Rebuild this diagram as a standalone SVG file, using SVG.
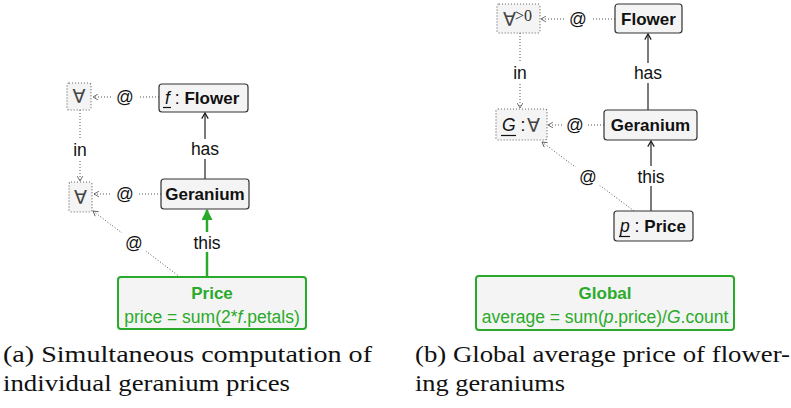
<svg xmlns="http://www.w3.org/2000/svg" width="791" height="408" viewBox="0 0 791 408">
<style>
.box{fill:#f4f4f4;stroke:#333;stroke-width:1.2}
.dbox{fill:#f4f4f4;stroke:#666;stroke-width:1.2;stroke-dasharray:1 2}
.gbox{fill:#f4f4f4;stroke:#2aaa2a;stroke-width:2}
.dot{fill:none;stroke:#555;stroke-width:1;stroke-dasharray:1 2}
.sol{fill:none;stroke:#333;stroke-width:1.3}
.grn{fill:none;stroke:#2aaa2a;stroke-width:2.5}
.t{font-family:"Liberation Sans",Arial,sans-serif;font-size:17.5px;fill:#111}
.b{font-weight:bold;font-size:17px}
.g{fill:#2aaa2a}
.lbl{font-family:"Liberation Sans",Arial,sans-serif;font-size:17.5px;fill:#111;text-anchor:middle}
.m{font-family:"DejaVu Sans",sans-serif;font-size:19px;fill:#444;font-weight:normal}
.cap{font-family:"Liberation Serif","Times New Roman",serif;font-size:23px;fill:#111}
.bg{fill:#fff}
</style>
<defs>
<marker id="ad" viewBox="0 0 10 10" refX="9" refY="5" markerWidth="7" markerHeight="7" orient="auto" markerUnits="userSpaceOnUse">
<path d="M2,1 L9,5 L2,9" fill="none" stroke="#555" stroke-width="1.2"/>
</marker>
<marker id="as" viewBox="0 0 10 10" refX="9" refY="5" markerWidth="8" markerHeight="8" orient="auto" markerUnits="userSpaceOnUse">
<path d="M2,1 L9,5 L2,9" fill="none" stroke="#222" stroke-width="1.6"/>
</marker>
<marker id="ag" viewBox="0 0 10 10" refX="9" refY="5" markerWidth="11" markerHeight="11" orient="auto" markerUnits="userSpaceOnUse">
<path d="M0,0 L10,5 L0,10 Z" fill="#2aaa2a"/>
</marker>
</defs>

<g id="connectors">
<!-- left -->
<line class="dot" x1="159" y1="97" x2="93" y2="97" marker-end="url(#ad)"/>
<rect class="bg" x="112" y="88" width="26" height="18"/>
<text class="lbl" x="125" y="103">@</text>
<line class="dot" x1="80" y1="110" x2="80" y2="181" marker-end="url(#ad)"/>
<rect class="bg" x="70" y="140" width="20" height="20"/>
<text class="lbl" x="80" y="156">in</text>
<line class="dot" x1="161" y1="194" x2="94" y2="194" marker-end="url(#ad)"/>
<rect class="bg" x="112" y="185" width="26" height="18"/>
<text class="lbl" x="125" y="200">@</text>
<line class="sol" x1="205" y1="179" x2="205" y2="113" marker-end="url(#as)"/>
<rect class="bg" x="188" y="139" width="34" height="20"/>
<text class="lbl" x="205" y="155">has</text>
<line class="grn" x1="207" y1="277" x2="207" y2="210" marker-end="url(#ag)"/>
<rect class="bg" x="190" y="232" width="34" height="20"/>
<text class="lbl g" x="207" y="249">this</text>
<line class="dot" x1="180" y1="277" x2="93" y2="211" marker-end="url(#ad)"/>
<rect class="bg" x="121" y="233" width="26" height="18"/>
<text class="lbl" x="134" y="249">@</text>
<!-- right -->
<line class="dot" x1="615" y1="19" x2="541" y2="19" marker-end="url(#ad)"/>
<rect class="bg" x="565" y="10" width="26" height="18"/>
<text class="lbl" x="578" y="25">@</text>
<line class="dot" x1="520" y1="33" x2="520" y2="108" marker-end="url(#ad)"/>
<rect class="bg" x="510" y="63" width="20" height="20"/>
<text class="lbl" x="520" y="79">in</text>
<line class="dot" x1="604" y1="125" x2="548" y2="125" marker-end="url(#ad)"/>
<rect class="bg" x="562" y="116" width="26" height="18"/>
<text class="lbl" x="575" y="131">@</text>
<line class="sol" x1="648" y1="110" x2="648" y2="34" marker-end="url(#as)"/>
<rect class="bg" x="631" y="63" width="34" height="20"/>
<text class="lbl" x="648" y="79">has</text>
<line class="sol" x1="651" y1="211" x2="651" y2="141" marker-end="url(#as)"/>
<rect class="bg" x="634" y="166" width="34" height="20"/>
<text class="lbl" x="651" y="183">this</text>
<line class="dot" x1="634" y1="211" x2="542" y2="142" marker-end="url(#ad)"/>
<rect class="bg" x="575" y="167" width="26" height="18"/>
<text class="lbl" x="588" y="183">@</text>
</g>

<g id="forallTopL">
<rect class="dbox" x="67" y="83" width="24" height="27" rx="2"/>
<text class="m" x="79" y="103" text-anchor="middle">∀</text>
</g>
<g id="forallBotL">
<rect class="dbox" x="69" y="182" width="23" height="30" rx="2"/>
<text class="m" x="80.5" y="204" text-anchor="middle">∀</text>
</g>
<g id="flowerL">
<rect class="box" x="159" y="84" width="89" height="28" rx="3"/>
<text class="t" x="165" y="104"><tspan font-style="italic">f</tspan> : <tspan class="b">Flower</tspan></text>
<line x1="163" y1="107.5" x2="171" y2="107.5" stroke="#111" stroke-width="1.2"/>
</g>
<g id="geraniumL">
<rect class="box" x="161" y="179" width="88" height="30" rx="3"/>
<text class="t b" x="205" y="200" text-anchor="middle">Geranium</text>
</g>
<g id="priceL">
<rect class="gbox" x="118" y="277" width="188" height="52" rx="3"/>
<text class="t b g" x="212" y="299" text-anchor="middle">Price</text>
<text class="t g" x="212" y="323" text-anchor="middle">price = sum(2*<tspan font-style="italic">f</tspan>.petals)</text>
</g>

<g id="forallGt0">
<rect class="dbox" x="497" y="4" width="43" height="29" rx="2"/>
<text class="m" x="503" y="26">∀</text>
<text x="515" y="21" style="font-family:'Liberation Serif',serif;font-size:16px;fill:#333">&gt;0</text>
</g>
<g id="Gforall">
<rect class="dbox" x="496" y="109" width="51" height="31" rx="2"/>
<text class="t" x="502" y="131"><tspan font-style="italic">G</tspan> : </text>
<text class="m" x="527" y="132">∀</text>
<line x1="501" y1="135.5" x2="516" y2="135.5" stroke="#111" stroke-width="1.2"/>
</g>
<g id="flowerR">
<rect class="box" x="615" y="4" width="67" height="29" rx="3"/>
<text class="t b" x="648.5" y="24.5" text-anchor="middle">Flower</text>
</g>
<g id="geraniumR">
<rect class="box" x="604" y="110" width="93" height="30" rx="3"/>
<text class="t b" x="650.5" y="131" text-anchor="middle">Geranium</text>
</g>
<g id="pPrice">
<rect class="box" x="614" y="211" width="79" height="30" rx="3"/>
<text class="t" x="620" y="232"><tspan font-style="italic">p</tspan> : <tspan class="b">Price</tspan></text>
<line x1="619" y1="236.5" x2="630" y2="236.5" stroke="#111" stroke-width="1.2"/>
</g>
<g id="globalR">
<rect class="gbox" x="476" y="276" width="258" height="54" rx="3"/>
<text class="t b g" x="605" y="299" text-anchor="middle">Global</text>
<text class="t g" x="605" y="323" text-anchor="middle">average = sum(<tspan font-style="italic">p</tspan>.price)/<tspan font-style="italic">G</tspan>.count</text>
</g>

<g id="captions">
<text class="cap" x="3" y="362" textLength="369" lengthAdjust="spacingAndGlyphs">(a)  Simultaneous  computation  of</text>
<text class="cap" x="3" y="391" textLength="287" lengthAdjust="spacingAndGlyphs">individual geranium prices</text>
<text class="cap" x="415" y="362" textLength="375" lengthAdjust="spacingAndGlyphs">(b) Global average price of flower-</text>
<text class="cap" x="415" y="391" textLength="150" lengthAdjust="spacingAndGlyphs">ing geraniums</text>
</g>
</svg>
